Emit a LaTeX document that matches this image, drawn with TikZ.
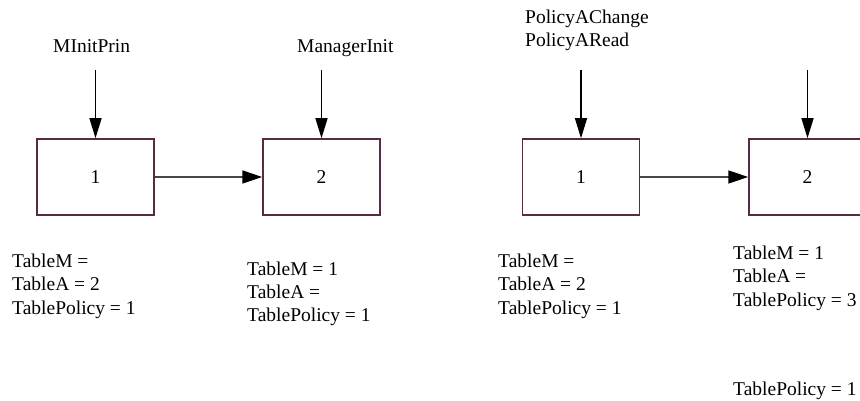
\documentclass[tikz,border=0pt]{standalone}
\usepackage{fontspec}
\setmainfont{Liberation Serif}
\usetikzlibrary{arrows.meta}
\definecolor{boxedge}{HTML}{5A2A44}
\definecolor{linkgrey}{HTML}{474747}
\begin{document}
\begin{tikzpicture}[x=1pt,y=-1pt,
  txt/.style={inner sep=0pt, anchor=base west, font=\fontsize{19.5}{23.5}\selectfont},
  stage/.style={draw=boxedge, line width=1.5pt, minimum width=117pt, minimum height=76pt,
    inner sep=0pt, font=\fontsize{19.5}{23.5}\selectfont},
  feed/.style={line width=1.2pt, -{Triangle[length=20pt,width=12pt]}},
  link/.style={draw=linkgrey, line width=1.5pt, -{Triangle[length=20pt,width=13pt,black]}}
]
\useasboundingbox (0,0) rectangle (860,401);
\clip (0,0) rectangle (860,401);

% process boxes
\node[stage] (b1) at (95.5,177) {1};
\node[stage] (b2) at (321.5,177) {2};
\node[stage] (b3) at (581,177) {1};
\node[stage] (b4) at (807.5,177) {2};

% input labels
\node[txt] (l1) at (53,53) {MInitPrin};
\node[txt] (l2) at (297,53) {ManagerInit};
\node[txt] (l3) at (525,24) {PolicyAChange};
\node[txt] (l3b) at (525,47) {PolicyARead};

% input arrows
\coordinate (s1) at (95.5,70);
\coordinate (s2) at (321.5,70);
\coordinate (s3) at (581,70);
\coordinate (s4) at (807.5,70);
\draw[feed] (s1) -- (b1.north);
\draw[feed] (s2) -- (b2.north);
\draw[feed] (s3) -- (b3.north);
\draw[feed] (s4) -- (b4.north);

% transitions
\draw[link] (b1.east) -- (b2.west);
\draw[link] (b3.east) -- (b4.west);

% table states
\node[txt] (t1) at (12,267) {\begin{tabular}[t]{@{}l@{}}TableM =\\TableA = 2\\TablePolicy = 1\end{tabular}};
\node[txt] (t2) at (247,275) {\begin{tabular}[t]{@{}l@{}}TableM = 1\\TableA =\\TablePolicy = 1\end{tabular}};
\node[txt] (t3) at (498,267) {\begin{tabular}[t]{@{}l@{}}TableM =\\TableA = 2\\TablePolicy = 1\end{tabular}};
\node[txt] (t4) at (733,259) {\begin{tabular}[t]{@{}l@{}}TableM = 1\\TableA =\\TablePolicy = 3\end{tabular}};
\node[txt] (t5) at (733,395) {TablePolicy = 1};
\end{tikzpicture}
\end{document}
